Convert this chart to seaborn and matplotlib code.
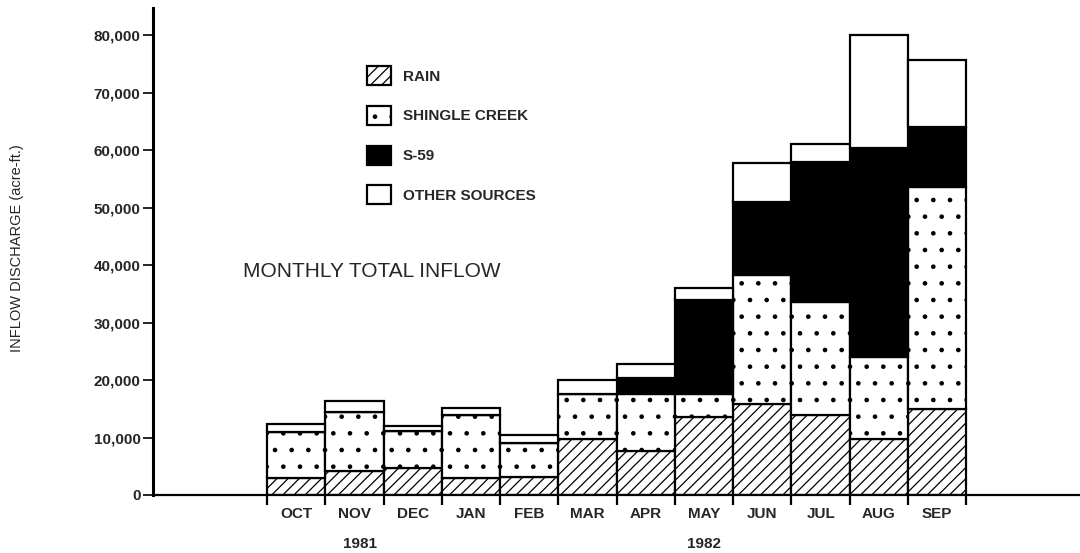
import matplotlib
matplotlib.use('Agg')
import matplotlib.pyplot as plt
import matplotlib.transforms as mtransforms
import numpy as np
import seaborn as sns

# monthly inflow components, acre-ft
months = ['OCT', 'NOV', 'DEC', 'JAN', 'FEB', 'MAR',
          'APR', 'MAY', 'JUN', 'JUL', 'AUG', 'SEP']
rain = [3000, 4200, 4700, 3000, 3100, 9700, 7700, 13600, 15800, 14000, 9700, 15000]
shingle = [8000, 10200, 6400, 11000, 5900, 7900, 9800, 4000, 22500, 19500, 14300, 38500]
s59 = [0, 0, 0, 0, 0, 0, 2800, 16400, 12700, 24500, 36300, 10500]
other = [1300, 1900, 900, 1100, 1400, 2400, 2500, 2000, 6700, 3000, 19700, 11600]

y_ticks = [0, 10000, 20000, 30000, 40000, 50000, 60000, 70000, 80000]
y_tick_labels = ['0', '10,000', '20,000', '30,000', '40,000',
                 '50,000', '60,000', '70,000', '80,000']
years = ['1981', '1982']
year_at = [1.1, 7]

sns.set_style('ticks')
plt.rcParams['font.family'] = ['Liberation Sans', 'DejaVu Sans']
plt.rcParams['hatch.linewidth'] = 0.9

fig = plt.figure(figsize=(10.8, 5.53), dpi=100)
ax = fig.add_axes([153 / 1080, 1 - 495 / 553, 927 / 1080, 487 / 553])

layers = [
    ('RAIN', rain, 'white', '///'),
    ('SHINGLE CREEK', shingle, 'white', '.'),
    ('S-59', s59, 'black', None),
    ('OTHER SOURCES', other, 'white', None),
]
bottom = np.zeros(len(months))
for name, vals, fc, hatch in layers:
    sns.barplot(x=months, y=vals, bottom=bottom.copy(), color=fc,
                edgecolor='black', linewidth=1.6, hatch=hatch, width=1,
                saturation=1, errorbar=None, label=name, ax=ax)
    bottom += np.array(vals)

ax.set_xlim(-2.455, 13.45)
ax.set_ylim(0, 84700)
ax.set_xlabel('')
ax.set_ylabel('')
for side in ['top', 'right']:
    ax.spines[side].set_visible(False)
ax.spines['left'].set_linewidth(2.2)
ax.spines['bottom'].set_linewidth(1.6)
ax.spines['left'].set_color('black')
ax.spines['bottom'].set_color('black')

ax.set_xticks(range(len(months)))
ax.set_xticklabels(months, fontweight='bold', fontsize=11)
ax.set_xticks(np.arange(-0.5, len(months), 1), minor=True)
ax.tick_params(axis='x', which='major', length=0, pad=9)
ax.tick_params(axis='x', which='minor', length=7, width=1.6, color='black')

ax.set_yticks(y_ticks)
ax.set_yticklabels(y_tick_labels, fontweight='bold', fontsize=11)
ax.tick_params(axis='y', which='major', length=7, width=1.2, pad=2, color='black')

handles, labels = ax.get_legend_handles_labels()
ax.legend(handles, labels, loc='upper left',
          bbox_to_anchor=(367 / 1080, 1 - 66 / 553), bbox_transform=fig.transFigure,
          frameon=False, borderpad=0, borderaxespad=0,
          handlelength=1.55, handleheight=1.55, handletextpad=0.8, labelspacing=1.35,
          prop={'weight': 'bold', 'size': 11})

fig.text(243 / 1080, 1 - 272 / 553, 'MONTHLY TOTAL INFLOW',
         fontsize=15, ha='left', va='center')
fig.text(17 / 1080, 1 - 248 / 553, 'INFLOW DISCHARGE (acre-ft.)',
         fontsize=10.5, rotation=90, ha='center', va='center')

trans = mtransforms.blended_transform_factory(ax.transData, fig.transFigure)
for txt, pos in zip(years, year_at):
    ax.text(pos, 1 - 544 / 553, txt, transform=trans, ha='center', va='center',
            fontweight='bold', fontsize=11)

fig.savefig('out.png', dpi=100)
